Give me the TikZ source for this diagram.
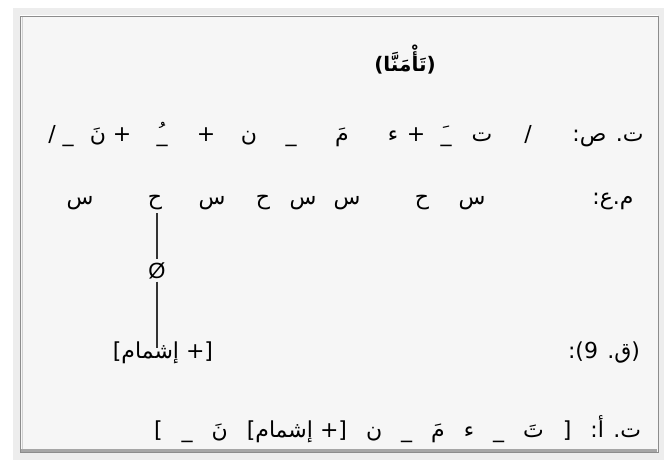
\documentclass[tikz,border=0pt]{standalone}
\usepackage{fontspec}
\setmainfont{Liberation Sans}
\newfontfamily\arabicfont[Script=Arabic]{DejaVu Sans}
\TeXXeTstate=1
\usetikzlibrary{positioning}

\definecolor{panelfill}{HTML}{F6F6F6}
\newcommand{\ar}[1]{{\arabicfont\beginR #1\endR}}
\newcommand{\usc}{\string_}
\newcommand{\gap}{\hspace{19pt}}

\begin{document}
\begin{tikzpicture}[
    x=1pt, y=-1pt,
    every node/.style={inner sep=0pt, outer sep=0pt},
    tok/.style={anchor=base, font=\fontsize{22}{26}\selectfont},
    lbl/.style={tok, anchor=base east},
    link/.style={line width=1.1pt, black!80},
]
\useasboundingbox (0,0) rectangle (664,460);

% ---- frame ----
\draw[black!7, line width=7pt] (16,12) rectangle (661,456);
\filldraw[fill=panelfill, draw=black!45, line width=0.8pt] (20,16) rectangle (658,452);
\draw[black!35, line width=2.5pt] (21,450.5) -- (657,450.5);
\draw[black!18, line width=1.5pt] (22.5,17) -- (22.5,449);

% ---- word ----
\node[tok, font=\bfseries\fontsize{20}{24}\selectfont] (word) at (405,71) {\ar{(تَأْمَنَّا)}};

% ---- underlying form ----
\foreach \x/\t [count=\i] in {608/{ت. ص:}, 528/{/}, 482/ت, 446/{\usc َ}, 416/+, 393/ء,
    342/مَ, 291/{\usc}, 249/ن, 206/+, 162/{\usc ُ}, 122/+, 98/نَ, 68/{\usc}, 52/{/}}
    \node[tok] (t2-\i) at (\x,141) {\ar{\t}};

% ---- syllables ----
\node[tok] (sylabel) at (613,204) {\ar{م.ع:}};
\foreach \x/\t [count=\i] in {472/س, 422/ح, 347/س, 303/س, 263/ح, 212/س, 155/ح, 80/س}
    \node[tok] (t3-\i) at (\x,204) {\ar{\t}};

% ---- rule ----
\node[tok] (nullv) at (157,278) {Ø};
\node[tok] (ishmam) at (163,358) {\ar{[+ إشمام]}};
\node[lbl] (rule) at (640,358) {\ar{(ق. 9):}};
\draw[link] ([yshift=-4pt]nullv |- t3-7.south) -- ([yshift=3pt]nullv.north);
\draw[link] ([yshift=-3pt]nullv.south) -- ([yshift=-7pt]nullv |- ishmam.north);

% ---- surface form ----
\node[lbl] (surface) at (641,437) {\ar{ت. أ:\gap[\gap تَ\gap\usc\gap ء\gap مَ\gap\usc\gap ن\gap [+ إشمام]\gap نَ\gap\usc\gap ]}};

\end{tikzpicture}
\end{document}
